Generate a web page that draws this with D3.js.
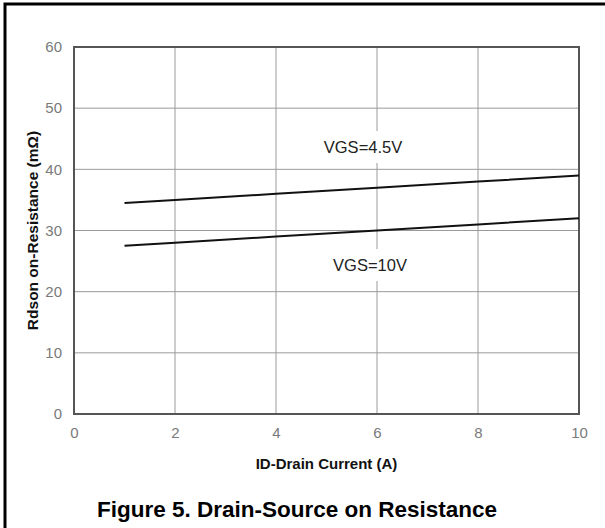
<!DOCTYPE html>
<html>
<head>
<meta charset="utf-8">
<script src="https://cdn.jsdelivr.net/npm/d3@7"></script>
<style>
  html, body { margin: 0; padding: 0; background: #fff; }
  svg { display: block; }
</style>
</head>
<body>
<script>
// Drain current (A) at which each curve is sampled
const drainCurrent = [1, 2, 4, 6, 8, 10];
// On-resistance (mΩ) for each gate voltage
const rdsVgs45 = [34.5, 35.0, 36.0, 37.0, 38.0, 39.0];
const rdsVgs10 = [27.5, 28.0, 29.0, 30.0, 31.0, 32.0];
const seriesLabels = ["VGS=4.5V", "VGS=10V"];
const xTicks = [0, 2, 4, 6, 8, 10];
const yTicks = [0, 10, 20, 30, 40, 50, 60];

const W = 605, H = 528;
const plot = { left: 74, right: 579, top: 47, bottom: 414 };

const svg = d3.select("body").append("svg")
  .attr("width", W).attr("height", H);

// outer frame: top and left edges only
svg.append("path")
  .attr("d", `M5,${H} L5,4 L${W},4`)
  .attr("fill", "none").attr("stroke", "#000").attr("stroke-width", 3);

const x = d3.scaleLinear().domain([0, 10]).range([plot.left, plot.right]);
const y = d3.scaleLinear().domain([0, 60]).range([plot.bottom, plot.top]);

// grid
const grid = svg.append("g");
grid.selectAll("line.v").data(xTicks.slice(1, -1)).enter().append("line")
  .attr("x1", d => x(d)).attr("x2", d => x(d))
  .attr("y1", plot.top).attr("y2", plot.bottom)
  .attr("stroke", "#9a9a9a").attr("stroke-width", 1);
grid.selectAll("line.h").data(yTicks.slice(1, -1)).enter().append("line")
  .attr("x1", plot.left).attr("x2", plot.right)
  .attr("y1", d => y(d)).attr("y2", d => y(d))
  .attr("stroke", "#9a9a9a").attr("stroke-width", 1);

// axes (labels only, grey)
const font = "Liberation Sans, Arial, sans-serif";
const xAxis = svg.append("g")
  .attr("transform", `translate(0,${plot.bottom})`)
  .call(d3.axisBottom(x).tickValues(xTicks).tickSize(0).tickPadding(13.5));
const yAxis = svg.append("g")
  .attr("transform", `translate(${plot.left},0)`)
  .call(d3.axisLeft(y).tickValues(yTicks).tickSize(0).tickPadding(12));
[xAxis, yAxis].forEach(a => {
  a.select(".domain").remove();
  a.selectAll("text").attr("fill", "#7a7a7a")
    .style("font-family", font).style("font-size", "15px");
});

// plot border
svg.append("rect")
  .attr("x", plot.left).attr("y", plot.top)
  .attr("width", plot.right - plot.left).attr("height", plot.bottom - plot.top)
  .attr("fill", "none").attr("stroke", "#555").attr("stroke-width", 2);

// curves
const line = d3.line().x((d, i) => x(drainCurrent[i])).y(d => y(d));
[rdsVgs45, rdsVgs10].forEach(s => {
  svg.append("path").datum(s)
    .attr("d", line)
    .attr("fill", "none").attr("stroke", "#111").attr("stroke-width", 2);
});

// curve labels on a white patch that interrupts the grid
const labelPos = [
  { cx: 363, cy: 147 },
  { cx: 370, cy: 265 }
];
seriesLabels.forEach((t, i) => {
  const g = svg.append("g");
  const txt = g.append("text")
    .attr("x", labelPos[i].cx).attr("y", labelPos[i].cy)
    .attr("text-anchor", "middle").attr("dominant-baseline", "central")
    .style("font-family", font).style("font-size", "16.5px")
    .attr("fill", "#222").text(t);
  const bb = txt.node().getBBox();
  g.insert("rect", "text")
    .attr("x", bb.x - 2).attr("y", labelPos[i].cy - 16)
    .attr("width", bb.width + 4).attr("height", 32)
    .attr("fill", "#fff");
});

// axis titles
svg.append("text")
  .attr("x", (plot.left + plot.right) / 2).attr("y", 469)
  .attr("text-anchor", "middle")
  .style("font-family", font).style("font-size", "15px").style("font-weight", "bold")
  .attr("fill", "#111").text("ID-Drain Current (A)");

svg.append("text")
  .attr("transform", `translate(38,${(plot.top + plot.bottom) / 2}) rotate(-90)`)
  .attr("text-anchor", "middle")
  .style("font-family", font).style("font-size", "15.5px").style("font-weight", "bold")
  .attr("fill", "#111").text("Rdson on-Resistance (mΩ)");

// figure caption
svg.append("text")
  .attr("x", 297).attr("y", 517)
  .attr("text-anchor", "middle")
  .style("font-family", font).style("font-size", "22.5px").style("font-weight", "bold")
  .attr("fill", "#000").text("Figure 5. Drain-Source on Resistance");
</script>
</body>
</html>
